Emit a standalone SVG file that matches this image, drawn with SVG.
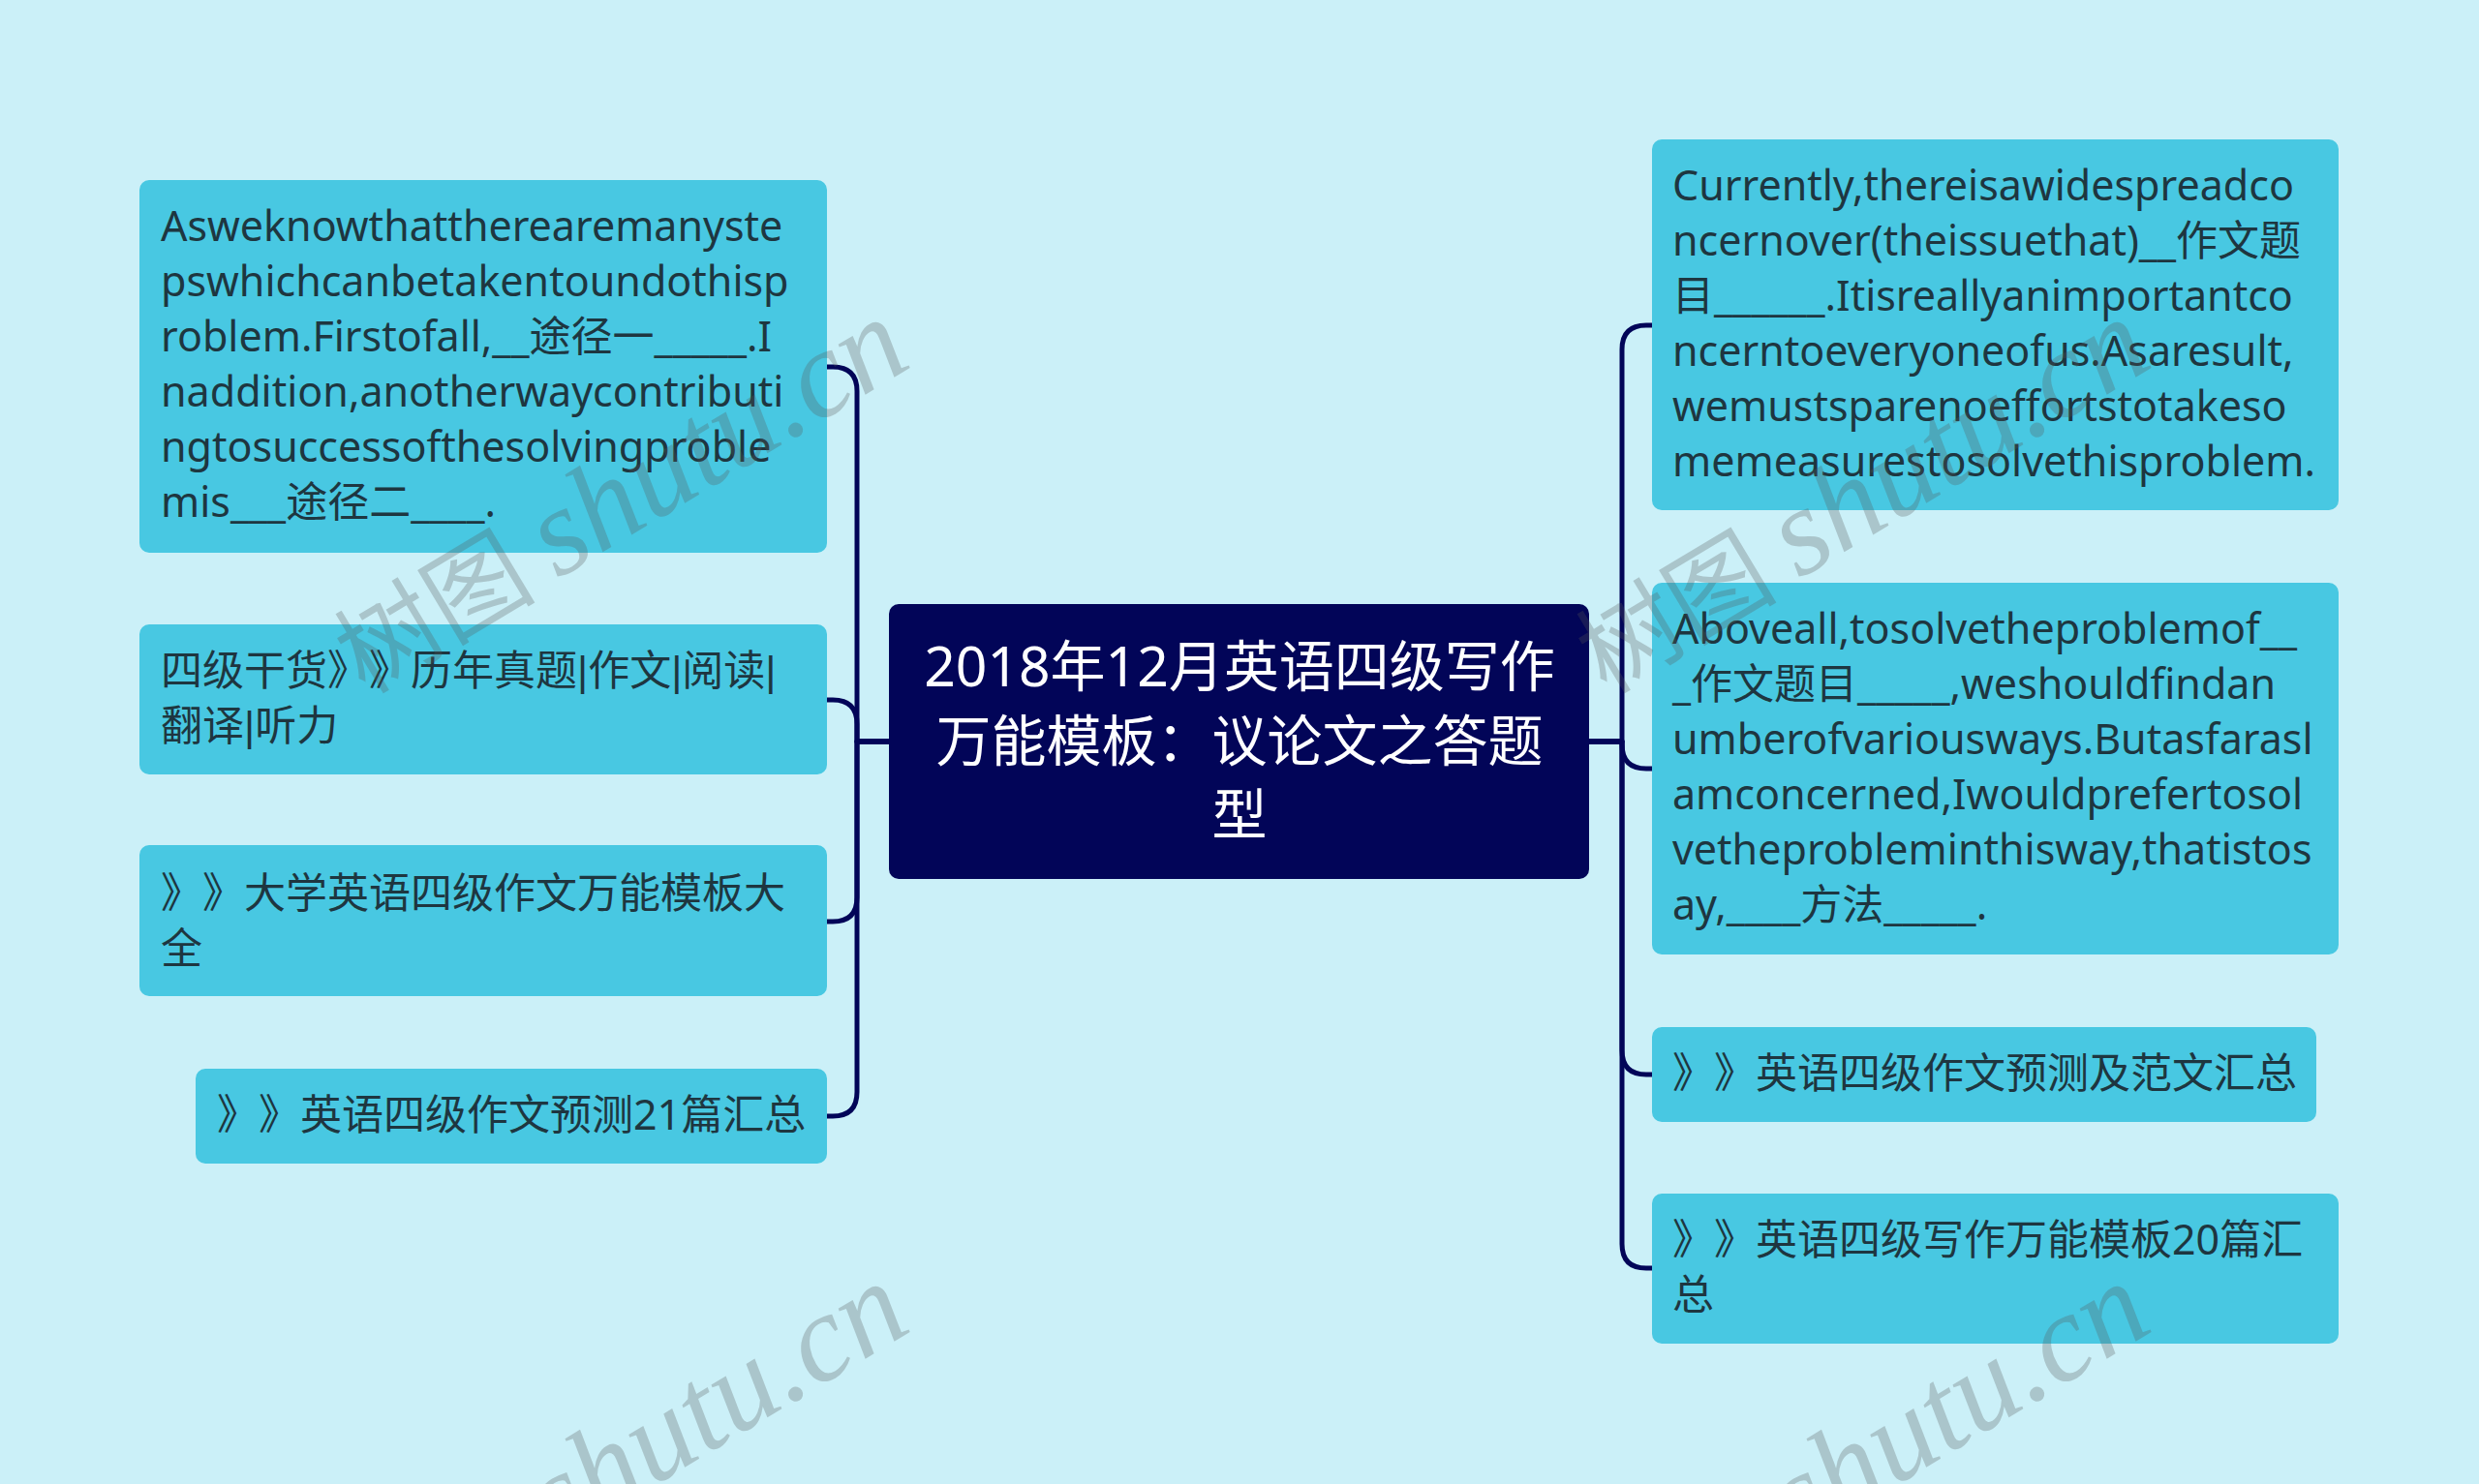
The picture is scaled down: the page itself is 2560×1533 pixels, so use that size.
<svg xmlns="http://www.w3.org/2000/svg" xmlns:xlink="http://www.w3.org/1999/xlink" width="2560" height="1533" viewBox="0 0 2560 1533">
<style>
.bg{fill:#CBF0F8}
.node{fill:#48C8E2}
.root{fill:#020558}
.t{font-family:"Noto Sans","Noto Sans CJK SC",sans-serif;font-size:43px;fill:#1E3640;font-feature-settings:"chws" 0,"halt" 0;text-spacing-trim:space-all}
.bar{font-family:"Liberation Sans",sans-serif}
.rt{font-family:"Noto Sans","Noto Sans CJK SC",sans-serif;font-size:57px;fill:#FFFFFF;text-anchor:middle;font-feature-settings:"chws" 0,"halt" 0;text-spacing-trim:space-all}
.edge{fill:none;stroke:#020558;stroke-width:5;stroke-linecap:round;stroke-linejoin:round}
.wm{fill:#555555;fill-opacity:0.28}
.wm1{font-family:"Noto Sans CJK SC",sans-serif;font-size:104px}
.wm2{font-family:"Liberation Serif",serif;font-style:italic;font-size:128px}
</style>
<defs>
<g id="wmark" class="wm">
<text class="wm1" x="0" y="0">树图</text>
<text class="wm2" x="232" y="0">shutu.cn</text>
</g>
</defs>
<rect class="bg" x="0" y="0" width="2560" height="1533"/>

<g id="connectors">
<path class="edge" d="M918,766 H885 V404 Q885,379 860,379 H854"/>
<path class="edge" d="M918,766 H885 V748 Q885,723 860,723 H854"/>
<path class="edge" d="M918,766 H885 V927 Q885,952 860,952 H854"/>
<path class="edge" d="M918,766 H885 V1128 Q885,1153 860,1153 H854"/>
<path class="edge" d="M1641,766 H1675 V361 Q1675,336 1700,336 H1706"/>
<path class="edge" d="M1641,766 H1675 V769 Q1675,794 1700,794 H1706"/>
<path class="edge" d="M1641,766 H1675 V1085 Q1675,1110 1700,1110 H1706"/>
<path class="edge" d="M1641,766 H1675 V1285 Q1675,1310 1700,1310 H1706"/>
</g>

<g id="root">
<rect class="root" x="918" y="624" width="723" height="284" rx="10"/>
<text class="rt" x="1280" y="709">2018年12月英语四级写作</text>
<text class="rt" x="1280" y="786">万能模板：议论文之答题</text>
<text class="rt" x="1280" y="862">型</text>
</g>

<g id="left1">
<rect class="node" x="144" y="186" width="710" height="385" rx="10"/>
<text class="t" x="166" y="249">Asweknowthattherearemanyste</text>
<text class="t" x="166" y="306">pswhichcanbetakentoundothisp</text>
<text class="t" x="166" y="363">roblem.Firstofall,__途径一_____.I</text>
<text class="t" x="166" y="420">naddition,anotherwaycontributi</text>
<text class="t" x="166" y="477">ngtosuccessofthesolvingproble</text>
<text class="t" x="166" y="534">mis___途径二____.</text>
</g>

<g id="left2">
<rect class="node" x="144" y="645" width="710" height="155" rx="10"/>
<text class="t" x="166" y="708">四级干货》》历年真题<tspan class="bar">|</tspan>作文<tspan class="bar">|</tspan>阅读<tspan class="bar">|</tspan></text>
<text class="t" x="166" y="765">翻译<tspan class="bar">|</tspan>听力</text>
</g>

<g id="left3">
<rect class="node" x="144" y="873" width="710" height="156" rx="10"/>
<text class="t" x="166" y="938">》》大学英语四级作文万能模板大</text>
<text class="t" x="166" y="995">全</text>
</g>

<g id="left4">
<rect class="node" x="202" y="1104" width="652" height="98" rx="10"/>
<text class="t" x="224" y="1167">》》英语四级作文预测21篇汇总</text>
</g>

<g id="right1">
<rect class="node" x="1706" y="144" width="709" height="383" rx="10"/>
<text class="t" x="1727" y="207">Currently,thereisawidespreadco</text>
<text class="t" x="1727" y="264">ncernover(theissuethat)__作文题</text>
<text class="t" x="1727" y="321">目______.Itisreallyanimportantco</text>
<text class="t" x="1727" y="378">ncerntoeveryoneofus.Asaresult,</text>
<text class="t" x="1727" y="435">wemustsparenoeffortstotakeso</text>
<text class="t" x="1727" y="492">memeasurestosolvethisproblem.</text>
</g>

<g id="right2">
<rect class="node" x="1706" y="602" width="709" height="384" rx="10"/>
<text class="t" x="1727" y="665">Aboveall,tosolvetheproblemof__</text>
<text class="t" x="1727" y="722">_作文题目_____,weshouldfindan</text>
<text class="t" x="1727" y="779">umberofvariousways.Butasfarasl</text>
<text class="t" x="1727" y="836">amconcerned,Iwouldprefertosol</text>
<text class="t" x="1727" y="893">vetheprobleminthisway,thatistos</text>
<text class="t" x="1727" y="950">ay,____方法_____.</text>
</g>

<g id="right3">
<rect class="node" x="1706" y="1061" width="686" height="98" rx="10"/>
<text class="t" x="1727" y="1124">》》英语四级作文预测及范文汇总</text>
</g>

<g id="right4">
<rect class="node" x="1706" y="1233" width="709" height="155" rx="10"/>
<text class="t" x="1727" y="1296">》》英语四级写作万能模板20篇汇</text>
<text class="t" x="1727" y="1353">总</text>
</g>

<g id="watermarks">
<use xlink:href="#wmark" transform="translate(377,718) rotate(-31)"/>
<use xlink:href="#wmark" transform="translate(1659,718) rotate(-31)"/>
<use xlink:href="#wmark" transform="translate(377,1714) rotate(-31)"/>
<use xlink:href="#wmark" transform="translate(1659,1714) rotate(-31)"/>
</g>
</svg>
